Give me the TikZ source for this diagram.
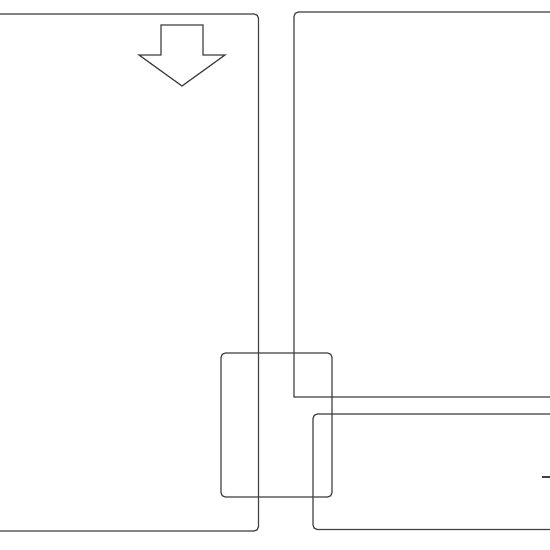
\documentclass[tikz,border=0pt]{standalone}
\usetikzlibrary{shapes,backgrounds}

\tikzset{panel/.style={draw=black!75, line width=0.7pt, rounded corners=2.5pt}}

\begin{document}
\begin{tikzpicture}[x=0.02cm, y=-0.02cm]
\clip (0,0) rectangle (550,550);
\draw[panel] (-20,14) rectangle (258.5,531);
\draw[panel] (600,12) -- (294,12) [sharp corners] -- (294,397) -- (600,397);
\draw[panel] (600,414) -- (313,414) -- (313,529.5) -- (600,529.5);
\draw[panel] (221,353) rectangle (332,497);
\draw[draw=black!75, line width=0.7pt] (161,25) -- (203,25) -- (203,55) -- (225,55) -- (182,86) -- (139,55) -- (161,55) -- cycle;
\draw[draw=black!75, line width=0.9pt] (542,477) -- (560,477);
\end{tikzpicture}
\end{document}
